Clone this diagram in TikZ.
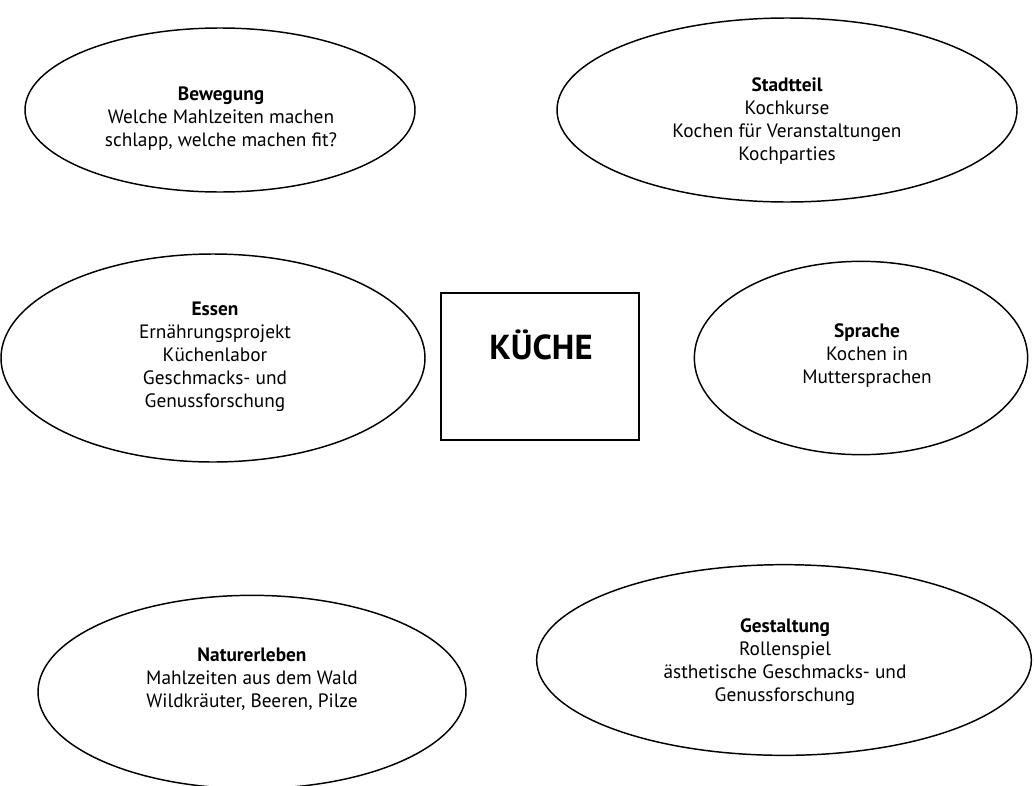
\documentclass[tikz,border=0pt]{standalone}
\usepackage{fontspec}
\setmainfont{PT Sans}
\usetikzlibrary{shapes.geometric}
\begin{document}
\begin{tikzpicture}[x=0.75pt,y=-0.75pt,
  bubble/.style={draw=black, line width=1.1pt, ellipse, inner sep=0pt},
  topic/.style={align=center, font=\fontsize{14.5}{17.25}\selectfont, inner sep=0pt},
  hub/.style={draw=black, line width=1.1pt, rectangle, inner sep=0pt}]
  \useasboundingbox (0,0) rectangle (1034,785);
  \clip (0,0) rectangle (1034,785);

  % central box
  \node[hub, minimum width=148.5pt, minimum height=110.25pt] (hubbox) at (540,366.5) {};
  \node[inner sep=0pt, font=\bfseries\fontsize{26}{30}\selectfont] (hubtext) at (541,345) {KÜCHE};

  % surrounding topic bubbles
  \node[bubble, minimum width=292.5pt, minimum height=123pt] (bew) at (220,110) {};
  \node[topic] (bewtext) at (221,119) {\textbf{Bewegung}\\Welche Mahlzeiten machen\\schlapp, welche machen fit?};

  \node[bubble, minimum width=345pt, minimum height=138pt] (stadt) at (787,110) {};
  \node[topic] (stadttext) at (787,121) {\textbf{Stadtteil}\\Kochkurse\\Kochen für Veranstaltungen\\Kochparties};

  \node[bubble, minimum width=318pt, minimum height=156pt] (essen) at (213,358) {};
  \node[topic] (essentext) at (215,357) {\textbf{Essen}\\Ernährungsprojekt\\Küchenlabor\\Geschmacks- und\\Genussforschung};

  \node[bubble, minimum width=250pt, minimum height=145pt] (sprache) at (861,358) {};
  \node[topic] (sprachetext) at (867,356) {\textbf{Sprache}\\Kochen in\\Muttersprachen};

  \node[bubble, minimum width=321pt, minimum height=145pt] (natur) at (252,692) {};
  \node[topic] (naturtext) at (252,679) {\textbf{Naturerleben}\\Mahlzeiten aus dem Wald\\Wildkräuter, Beeren, Pilze};

  \node[bubble, minimum width=371pt, minimum height=143pt] (gestalt) at (784,660) {};
  \node[topic] (gestalttext) at (785,662) {\textbf{Gestaltung}\\Rollenspiel\\ästhetische Geschmacks- und\\Genussforschung};
\end{tikzpicture}
\end{document}
